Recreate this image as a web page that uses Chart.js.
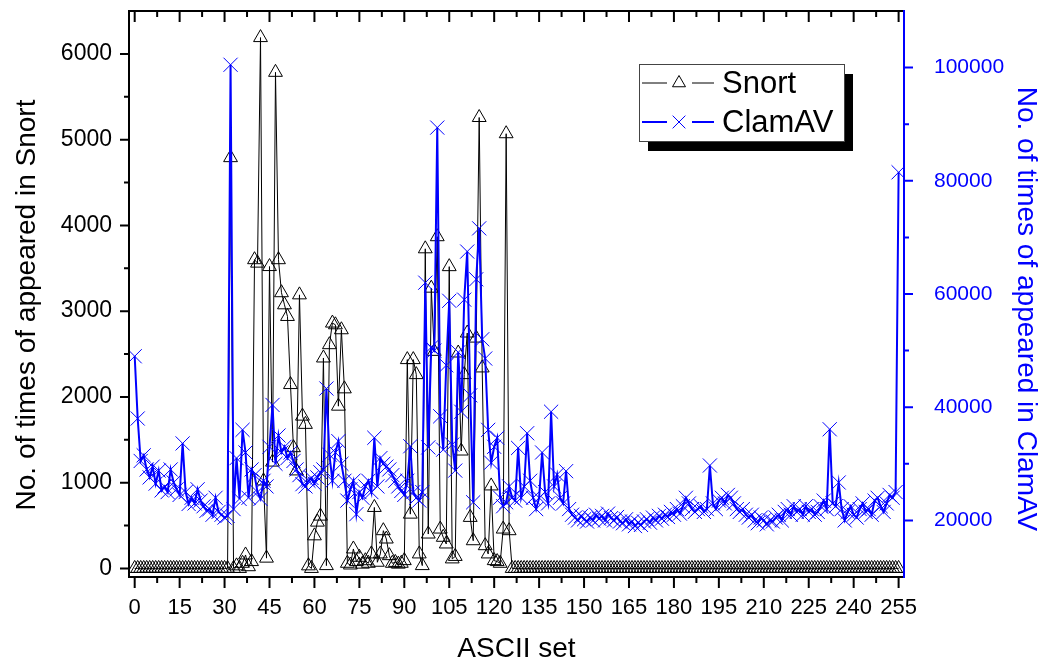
<!DOCTYPE html>
<html>
<head>
<meta charset="utf-8">
<script src="https://cdn.jsdelivr.net/npm/chart.js@4.4.1/dist/chart.umd.min.js"></script>
<style>
  html, body { margin: 0; padding: 0; background: #fff; }
  #wrap { width: 1051px; height: 666px; }
</style>
</head>
<body>
<div id="wrap"><canvas id="chart" width="1051" height="666"></canvas></div>
<script>
// categories: ASCII code 0..255
const asciiSet = Array.from({ length: 256 }, (_, i) => i);
const xTicks = [0, 15, 30, 45, 60, 75, 90, 105, 120, 135, 150, 165, 180, 195, 210, 225, 240, 255];
const snortTicks = [0, 1000, 2000, 3000, 4000, 5000, 6000];
const clamTicks = [20000, 40000, 60000, 80000, 100000];

// Snort counts (left axis)
const snortCounts = [
  0, 0, 0, 0, 0, 0, 0, 0, 0, 0, 0, 0, 0, 0, 0, 0,
  0, 0, 0, 0, 0, 0, 0, 0, 0, 0, 0, 0, 0, 0, 0, 0,
  4790, 0, 30, 0, 60, 157, 20, 80, 3600, 3560, 6190, 1020, 120, 3520, 1240, 5785,
  3600, 3215, 3074, 2938, 2144, 1408, 1137, 3190, 1776, 1680, 30, 0, 380, 540, 610, 2454,
  33, 2609, 2861, 2841, 1892, 2783, 2094, 60, 40, 227, 80, 130, 50, 90, 60, 169,
  711, 72, 169, 440, 343, 149, 60, 70, 50, 60, 91, 2435, 633, 2435, 2260, 169,
  33, 3727, 401, 3268, 2531, 3868, 459, 363, 285, 3519, 111, 140, 2512, 1369, 2260, 2745,
  595, 323, 2686, 5258, 2338, 265, 169, 962, 91, 80, 60, 459, 5069, 440, 0, 0,
  0, 0, 0, 0, 0, 0, 0, 0, 0, 0, 0, 0, 0, 0, 0, 0,
  0, 0, 0, 0, 0, 0, 0, 0, 0, 0, 0, 0, 0, 0, 0, 0,
  0, 0, 0, 0, 0, 0, 0, 0, 0, 0, 0, 0, 0, 0, 0, 0,
  0, 0, 0, 0, 0, 0, 0, 0, 0, 0, 0, 0, 0, 0, 0, 0,
  0, 0, 0, 0, 0, 0, 0, 0, 0, 0, 0, 0, 0, 0, 0, 0,
  0, 0, 0, 0, 0, 0, 0, 0, 0, 0, 0, 0, 0, 0, 0, 0,
  0, 0, 0, 0, 0, 0, 0, 0, 0, 0, 0, 0, 0, 0, 0, 0,
  0, 0, 0, 0, 0, 0, 0, 0, 0, 0, 0, 0, 0, 0, 0, 0
];

// ClamAV counts (right axis)
const clamavCounts = [
  49000, 38000, 30500, 31500, 29000, 27600, 29500, 26500, 28800, 25300, 26000, 25000, 29000, 26700, 25500, 24500,
  33600, 25000, 22900, 24000, 23000, 25500, 23500, 22500, 21700, 22000, 21000, 24000, 21500, 21000, 20500, 20800,
  100500, 22000, 31000, 23800, 36000, 32000, 24000, 29000, 28000, 25000, 23800, 27000, 26000, 33000, 40400, 30000,
  35000, 32000, 33000, 31000, 32000, 30500, 29000, 28000, 26400, 26000, 27000, 27500, 26500, 27600, 28500, 29000,
  43300, 31600, 27000, 32000, 34000, 30000, 27000, 23500, 25500, 27000, 21100, 25000, 24000, 26000, 27000, 25000,
  34600, 26000, 31000, 30000, 29500, 29000, 28000, 27000, 26000, 25200, 24500, 27000, 33100, 25000, 24000, 23500,
  25000, 62000, 32900, 50600, 50000, 89400, 38400, 32500, 47400, 58800, 33400, 28800, 49700, 39200, 59000, 67500,
  42100, 23200, 62600, 71600, 52000, 48600, 36000, 30200, 33000, 34600, 24000, 22500, 23200, 26000, 24000, 23500,
  32800, 24000, 26000, 35400, 27000, 24000, 22000, 24000, 32000, 25000, 23000, 39200, 26000, 28100, 24000, 23000,
  28700, 22000, 21000, 20500, 20000, 20800, 20200, 19800, 20500, 20000, 21000, 20300, 20800, 20000, 21200, 20400,
  20000, 20600, 19800, 19500, 20200, 19300, 19800, 19000, 19600, 19200, 19800, 20200, 19600, 20500, 20000, 20800,
  20300, 21000, 20600, 21500, 21000, 22000, 21200, 22500, 24000, 23000, 22000, 21500, 22000, 22500, 21500, 22000,
  29700, 23000, 22000, 23500, 24000, 23000, 24500, 24000, 23000, 22000, 21500, 22000, 21000, 20500, 21000, 20000,
  19500, 20500, 20000, 19300, 20000, 19800, 20500, 21000, 20000, 21500, 22000, 21000, 22500, 21500, 22000, 21000,
  22500, 21500, 22000, 21000, 21500, 22500, 23500, 22000, 36100, 23000, 22500, 26700, 22000, 20000, 21500, 22500,
  21000, 20500, 22000, 23000, 21500, 22000, 21000, 23500, 24000, 22500, 21500, 23000, 24500, 24000, 25000, 81500
];

const BLUE = '#0000ff';
const FONT = '"Liberation Sans", Arial, sans-serif';
Chart.defaults.font.family = FONT;

// frame + major/minor ticks on all four sides
const frameTicks = {
  id: 'frameTicks',
  afterDraw(chart) {
    const { ctx, chartArea: a, scales: { x, y, y1 } } = chart;
    ctx.save();
    ctx.lineWidth = 2;
    ctx.strokeStyle = '#000';
    ctx.beginPath();
    for (let v = 0; v <= 255; v += 7.5) {
      const px = x.getPixelForValue(v);
      const len = v % 15 === 0 ? 11 : 6;
      ctx.moveTo(px, a.bottom); ctx.lineTo(px, a.bottom + len);
      ctx.moveTo(px, a.top); ctx.lineTo(px, a.top + len);
    }
    for (let v = 0; v <= 6000; v += 500) {
      const py = y.getPixelForValue(v);
      const len = v % 1000 === 0 ? 9 : 5;
      ctx.moveTo(a.left, py); ctx.lineTo(a.left - len, py);
    }
    ctx.moveTo(a.left, a.top); ctx.lineTo(a.left, a.bottom);
    ctx.moveTo(a.left - 1, a.top); ctx.lineTo(a.right, a.top);
    ctx.moveTo(a.left - 1, a.bottom); ctx.lineTo(a.right, a.bottom);
    ctx.stroke();

    ctx.strokeStyle = BLUE;
    ctx.beginPath();
    for (let v = 20000; v <= 100000; v += 10000) {
      const py = y1.getPixelForValue(v);
      const len = v % 20000 === 0 ? 9 : 5;
      ctx.moveTo(a.right, py); ctx.lineTo(a.right + len, py);
    }
    ctx.moveTo(a.right, a.top - 1); ctx.lineTo(a.right, a.bottom + 1);
    ctx.stroke();

    // vertical axis titles
    ctx.font = '28px ' + FONT;
    ctx.textAlign = 'center';
    ctx.textBaseline = 'middle';
    ctx.fillStyle = '#000';
    ctx.save();
    ctx.translate(27, 305);
    ctx.rotate(-Math.PI / 2);
    ctx.fillText('No. of times of appeared in Snort', 0, 0);
    ctx.restore();
    ctx.fillStyle = BLUE;
    ctx.save();
    ctx.translate(1026, 309);
    ctx.rotate(Math.PI / 2);
    ctx.fillText('No. of times of appeared in ClamAV', 0, 0);
    ctx.restore();
    ctx.restore();
  }
};

// boxed legend with drop shadow
const shadowLegend = {
  id: 'shadowLegend',
  afterDraw(chart) {
    const { ctx } = chart;
    const bx = 639, by = 64, bw = 205, bh = 77;
    ctx.save();
    ctx.fillStyle = '#000';
    ctx.fillRect(bx + 9, by + 10, bw, bh);
    ctx.fillStyle = '#fff';
    ctx.fillRect(bx, by, bw, bh);
    ctx.strokeStyle = '#444';
    ctx.lineWidth = 1;
    ctx.strokeRect(bx + 0.5, by + 0.5, bw, bh);

    const rows = [
      { ds: chart.data.datasets[0], y: 83 },
      { ds: chart.data.datasets[1], y: 122 }
    ];
    rows.forEach(r => {
      ctx.strokeStyle = r.ds.borderColor;
      ctx.lineWidth = r.ds.borderWidth;
      ctx.beginPath();
      ctx.moveTo(642, r.y); ctx.lineTo(667, r.y);
      ctx.moveTo(692, r.y); ctx.lineTo(714, r.y);
      ctx.stroke();
      ctx.lineWidth = 1;
      ctx.strokeStyle = r.ds.pointBorderColor;
      ctx.fillStyle = 'rgba(0,0,0,0)';
      Chart.helpers.drawPoint(ctx, {
        pointStyle: r.ds.pointStyle,
        radius: r.ds.pointStyle === 'triangle' ? 7.5 : 9,
        rotation: 0,
        borderWidth: 1
      }, 679, r.y);
      ctx.fillStyle = '#000';
      ctx.font = '31px ' + FONT;
      ctx.textBaseline = 'middle';
      ctx.textAlign = 'left';
      ctx.fillText(r.ds.label, 722, r.y + 1);
    });
    ctx.restore();
  }
};

const plain = v => String(v);

new Chart(document.getElementById('chart'), {
  type: 'line',
  data: {
    datasets: [
      {
        label: 'Snort',
        data: snortCounts.map((v, i) => ({ x: asciiSet[i], y: v })),
        yAxisID: 'y',
        order: 1,
        borderColor: '#000',
        borderWidth: 1,
        pointStyle: 'triangle',
        pointRadius: 8,
        pointBorderColor: '#000',
        pointBackgroundColor: 'rgba(0,0,0,0)',
        pointBorderWidth: 1,
        tension: 0
      },
      {
        label: 'ClamAV',
        data: clamavCounts.map((v, i) => ({ x: asciiSet[i], y: v })),
        yAxisID: 'y1',
        order: 0,
        borderColor: BLUE,
        borderWidth: 2,
        pointStyle: 'crossRot',
        pointRadius: 10,
        pointBorderColor: BLUE,
        pointBackgroundColor: BLUE,
        pointBorderWidth: 1,
        tension: 0
      }
    ]
  },
  options: {
    responsive: false,
    animation: false,
    layout: { padding: { top: 9 } },
    plugins: { legend: { display: false }, tooltip: { enabled: false } },
    scales: {
      x: {
        type: 'linear',
        position: 'bottom',
        min: -1.9,
        max: 256.8,
        afterBuildTicks: s => { s.ticks = xTicks.map(v => ({ value: v })); },
        afterFit: s => { s.height = 89; s.paddingLeft = 0; s.paddingRight = 0; },
        grid: { display: false, drawTicks: false },
        border: { display: false },
        ticks: { color: '#000', padding: 18, maxRotation: 0, autoSkip: false, font: { size: 22 }, callback: plain },
        title: { display: true, text: 'ASCII set', color: '#000', font: { size: 28 }, padding: { top: 0, bottom: 0 } }
      },
      y: {
        position: 'left',
        min: -100,
        max: 6500,
        afterBuildTicks: s => { s.ticks = snortTicks.map(v => ({ value: v })); },
        afterFit: s => { s.width = 129; s.paddingTop = 0; s.paddingBottom = 0; },
        grid: { display: false, drawTicks: false },
        border: { display: false },
        ticks: { color: '#000', padding: 17, font: { size: 23 }, callback: plain }
      },
      y1: {
        position: 'right',
        min: 10000,
        max: 110000,
        afterBuildTicks: s => { s.ticks = clamTicks.map(v => ({ value: v })); },
        afterFit: s => { s.width = 147; s.paddingTop = 0; s.paddingBottom = 0; },
        grid: { display: false, drawTicks: false },
        border: { display: false },
        ticks: { color: BLUE, padding: 30, font: { size: 21 }, callback: plain }
      }
    }
  },
  plugins: [frameTicks, shadowLegend]
});
</script>
</body>
</html>
